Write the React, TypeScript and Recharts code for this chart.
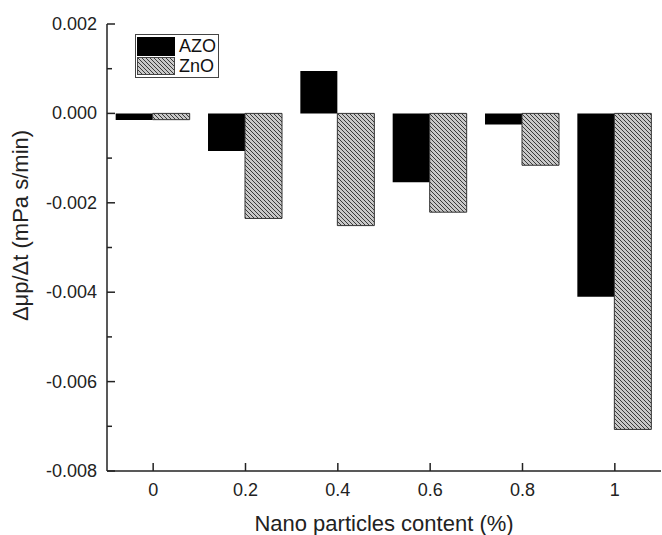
import React from 'react'
import { BarChart, Bar, XAxis, YAxis, Legend } from 'recharts'

// nano particle content (%)
const contents = ['0', '0.2', '0.4', '0.6', '0.8', '1']
// Δμp/Δt (mPa s/min)
const azoValues = [-0.00015, -0.00084, 0.00095, -0.00154, -0.00025, -0.0041]
const znoValues = [-0.00014, -0.00235, -0.00251, -0.00221, -0.00116, -0.00707]
const yTicks = [0.002, 0.001, 0, -0.001, -0.002, -0.003, -0.004, -0.005, -0.006, -0.007, -0.008]

const data = contents.map((c, i) => ({ content: c, AZO: azoValues[i], ZnO: znoValues[i] }))

const FONT = '"Liberation Sans", Arial, sans-serif'

const YTick = (props: any) => {
  const { x, y, payload } = props
  const v = payload.value as number
  const major = Math.round(v * 1000) % 2 === 0
  return (
    <g>
      <line x1={x} y1={y} x2={x + (major ? 8 : 5)} y2={y} stroke="#222" strokeWidth={1.5} />
      {major && (
        <text x={x - 10} y={y} dy={6} textAnchor="end" fontSize={18} fontFamily={FONT} fill="#222">
          {v.toFixed(3)}
        </text>
      )}
    </g>
  )
}

const XTick = (props: any) => {
  const { x, y, payload } = props
  return (
    <g>
      <line x1={x} y1={y} x2={x} y2={y - 8} stroke="#222" strokeWidth={1.5} />
      <text x={x} y={y} dy={25} textAnchor="middle" fontSize={18} fontFamily={FONT} fill="#222">
        {payload.value}
      </text>
    </g>
  )
}

const LegendBox = () => (
  <div
    style={{
      border: '1px solid #444',
      background: '#fff',
      padding: 1,
      width: 80,
      fontFamily: FONT,
      fontSize: 18,
      color: '#111',
      lineHeight: '19px'
    }}
  >
    <div style={{ display: 'flex', alignItems: 'center', height: 20 }}>
      <span style={{ width: 38, height: 19, background: '#000', display: 'inline-block', marginRight: 4 }} />
      AZO
    </div>
    <div style={{ display: 'flex', alignItems: 'center', height: 20 }}>
      <svg width={38} height={18} style={{ marginRight: 4 }}>
        <rect x={0.5} y={0.5} width={37} height={17} fill="url(#hatch)" stroke="#444" />
      </svg>
      ZnO
    </div>
  </div>
)

export default function App() {
  return (
    <div style={{ position: 'absolute', left: 0, top: 0, width: 662, height: 535, background: '#fff' }}>
      <BarChart
        width={662}
        height={535}
        data={data}
        margin={{ top: 24, right: 1, bottom: 0, left: 0 }}
        barCategoryGap="9.4%"
        barGap={0}
      >
        <defs>
          <pattern id="hatch" patternUnits="userSpaceOnUse" width={4} height={4}>
            <rect width={4} height={4} fill="#c8c8c8" />
            <path d="M-1,-1 L5,5 M-1,3 L1,5 M3,-1 L5,1" stroke="#3a3a3a" strokeWidth={1} />
          </pattern>
        </defs>
        <XAxis
          dataKey="content"
          height={64}
          axisLine={{ stroke: '#222', strokeWidth: 1.5 }}
          tickLine={false}
          tickSize={0}
          tickMargin={0}
          tick={<XTick />}
          interval={0}
          label={{ value: 'Nano particles content (%)', position: 'insideBottom', offset: 4, fontSize: 22, fontFamily: FONT, fill: '#222' }}
        />
        <XAxis xAxisId="top" orientation="top" dataKey="content" height={0} tick={false} tickLine={false} axisLine={{ stroke: '#222', strokeWidth: 1.5 }} />
        <YAxis
          width={107}
          domain={[-0.008, 0.002]}
          ticks={yTicks}
          interval={0}
          axisLine={{ stroke: '#222', strokeWidth: 1.5 }}
          tickLine={false}
          tickSize={0}
          tickMargin={0}
          tick={<YTick />}
          label={{ value: 'Δμp/Δt (mPa s/min)', angle: -90, position: 'insideLeft', offset: 20, dy: -22, fontSize: 22, fontFamily: FONT, fill: '#222', style: { textAnchor: 'middle' } }}
        />
        <YAxis yAxisId="right" orientation="right" width={0} domain={[-0.008, 0.002]} tick={false} tickLine={false} axisLine={{ stroke: '#222', strokeWidth: 1.5 }} />
        <Legend
          layout="vertical"
          align="center"
          verticalAlign="middle"
          content={<LegendBox />}
          wrapperStyle={{ left: 135, top: 34, width: 84 }}
        />
        <Bar dataKey="AZO" fill="#000" isAnimationActive={false} />
        <Bar dataKey="ZnO" fill="url(#hatch)" stroke="#333" strokeWidth={1} isAnimationActive={false} />
      </BarChart>
    </div>
  )
}
